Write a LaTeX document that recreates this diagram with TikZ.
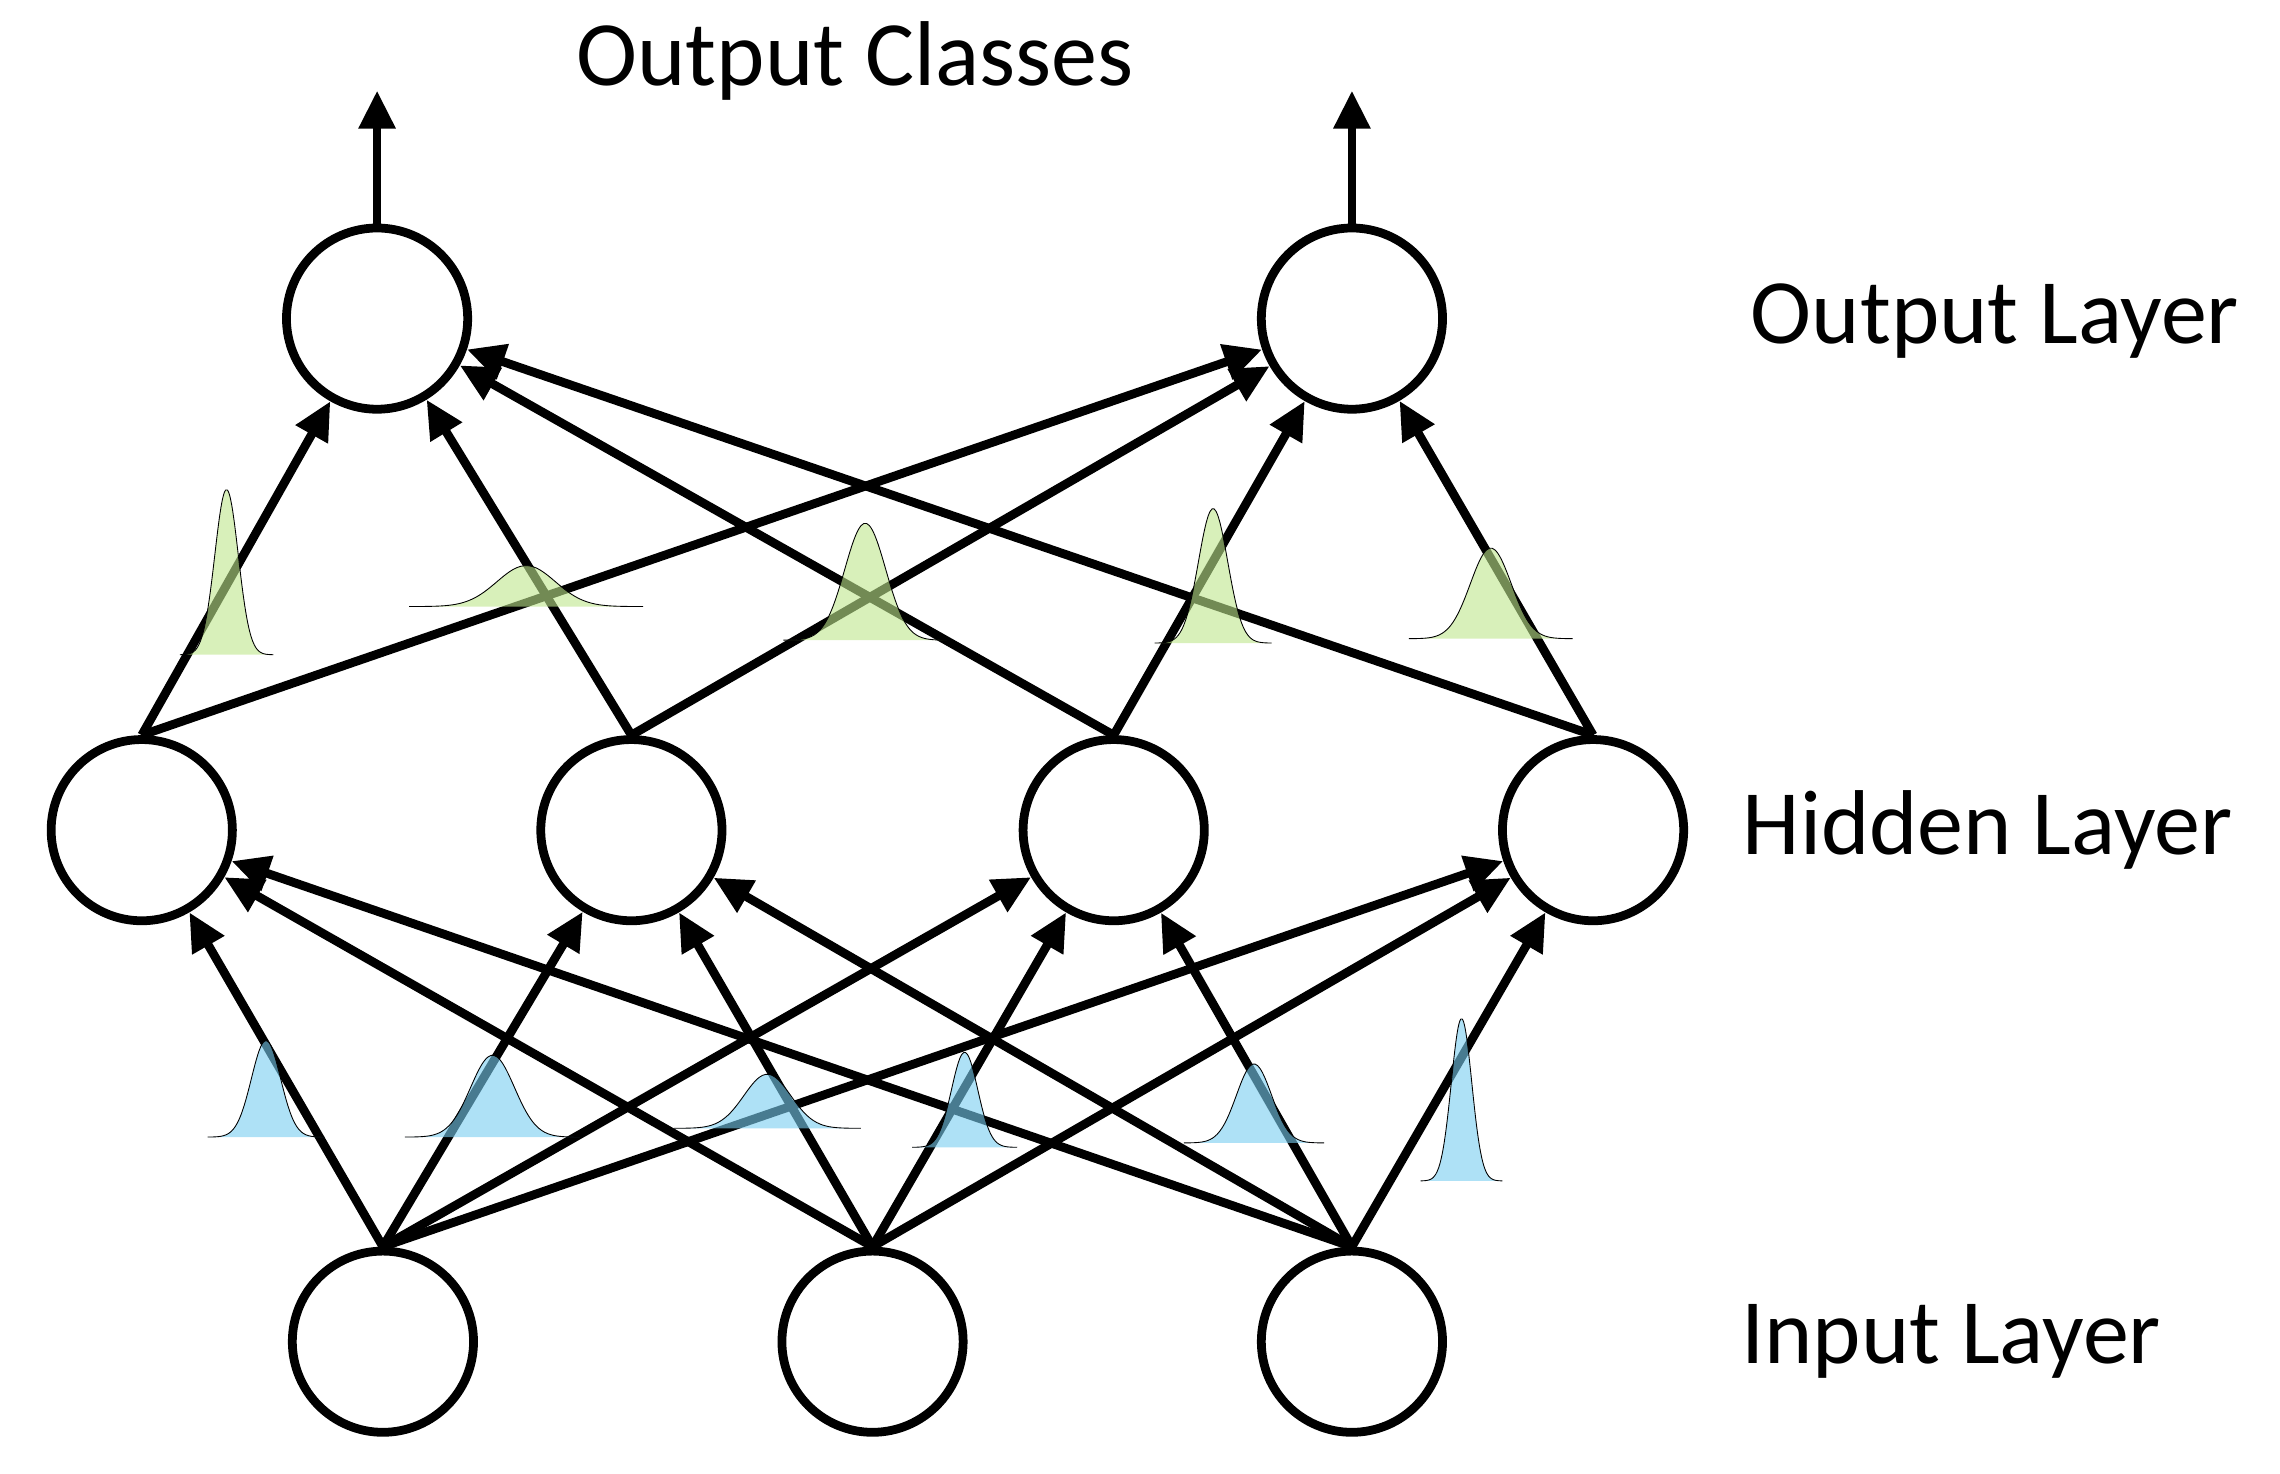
\documentclass[tikz,border=0pt]{standalone}
\usepackage{fontspec}
\setmainfont{Carlito}
\usetikzlibrary{arrows.meta}
\definecolor{gfill}{RGB}{190,230,140}
\definecolor{bfill}{RGB}{120,205,240}
\newcommand{\gaussplot}[5]{%
  \fill[#5,opacity=0.6] plot[domain=-4*#4:4*#4,samples=60,smooth] ({#1+\x},{#2-#3*exp(-(\x*\x)/(2*#4*#4))}) -- cycle;
  \draw[black,line width=0.6pt] plot[domain=-4*#4:4*#4,samples=60,smooth] ({#1+\x},{#2-#3*exp(-(\x*\x)/(2*#4*#4))});}
\begin{document}
\begin{tikzpicture}[x=1pt,y=-1pt,
  neuron/.style={circle,draw,line width=6pt,minimum size=124pt,inner sep=0pt},
  edge/.style={line width=6pt,-{Triangle[length=26pt,width=24pt]}},
  lab/.style={font=\fontsize{63}{70}\selectfont,anchor=center}]
\useasboundingbox (0,0) rectangle (1560,1008);
\node[neuron] (i1) at (262,918) {};
\node[neuron] (i2) at (597,918) {};
\node[neuron] (i3) at (925,918) {};
\node[neuron] (h1) at (97,568) {};
\node[neuron] (h2) at (432,568) {};
\node[neuron] (h3) at (762,568) {};
\node[neuron] (h4) at (1090,568) {};
\node[neuron] (o1) at (258,218) {};
\node[neuron] (o2) at (925,218) {};
\coordinate (c1) at (258,62);
\coordinate (c2) at (925,62);
\foreach \i in {i1,i2,i3}{\foreach \h in {h1,h2,h3,h4}{\draw[edge] (\i.north) -- (\h);}}
\foreach \h in {h1,h2,h3,h4}{\foreach \o in {o1,o2}{\draw[edge] (\h.north) -- (\o);}}
\draw[edge] (o1) -- (c1);
\draw[edge] (o2) -- (c2);
\gaussplot{155}{448}{113}{8}{gfill}
\gaussplot{360}{415}{28}{20}{gfill}
\gaussplot{592}{438}{80}{14}{gfill}
\gaussplot{830}{440}{92}{10}{gfill}
\gaussplot{1020}{437}{62}{14}{gfill}
\gaussplot{182}{778}{66}{10}{bfill}
\gaussplot{337}{778}{56}{15}{bfill}
\gaussplot{525}{772}{37}{16}{bfill}
\gaussplot{660}{785}{65}{9}{bfill}
\gaussplot{858}{782}{54}{12}{bfill}
\gaussplot{1000}{808}{111}{7}{bfill}
\node[lab] (t0) at (585,42) {Output Classes};
\node[lab] (t1) at (1365,220) {Output Layer};
\node[lab] (t2) at (1360,568) {Hidden Layer};
\node[lab] (t3) at (1335,918) {Input Layer};
\end{tikzpicture}
\end{document}
